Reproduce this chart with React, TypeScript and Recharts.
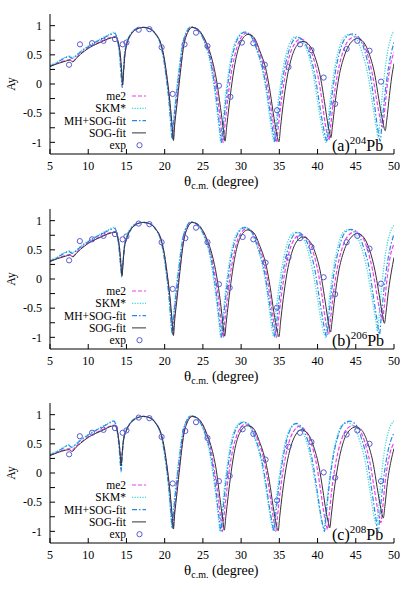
import React from 'react';
import { ComposedChart, Line, Scatter, XAxis, YAxis, Customized } from 'recharts';

type P = [number, number];

const xTicks = [5, 10, 15, 20, 25, 30, 35, 40, 45, 50];
const yTicks = [-1, -0.75, -0.5, -0.25, 0, 0.25, 0.5, 0.75, 1];
const yLabelTicks = [-1, -0.5, 0, 0.5, 1];
const seriesNames = ['me2', 'SKM*', 'MH+SOG-fit', 'SOG-fit', 'exp'];
const panelTags = ['(a)', '(b)', '(c)'];
const panelMasses = ['204', '206', '208'];
const element = 'Pb';

// ---------- panel (a) 204Pb ----------
const aSog: P[] = [[5,0.30],[6,0.35],[7,0.39],[7.6,0.41],[8.0,0.38],[8.5,0.45],[9,0.51],[10,0.61],[11,0.68],[12,0.74],[13,0.79],[13.6,0.80],[13.95,0.70],[14.2,0.5],[14.38,0.2],[14.5,-0.02],[14.62,0.2],[14.8,0.5],[15.0,0.66],[15.5,0.83],[16.2,0.93],[17.2,0.97],[18.0,0.95],[18.8,0.86],[19.6,0.65],[20.0,0.40],[20.3,0.12],[20.7,-0.32],[21.0,-0.75],[21.15,-0.97],[21.3,-0.72],[21.6,-0.36],[22.0,0.13],[22.5,0.66],[23.0,0.88],[23.6,0.97],[24.2,0.95],[24.9,0.85],[25.6,0.66],[26.2,0.42],[26.8,0.05],[27.3,-0.4],[27.7,-0.8],[27.9,-0.98],[28.1,-0.75],[28.4,-0.4],[28.8,0.02],[29.3,0.42],[29.9,0.7],[30.9,0.85],[31.6,0.81],[32.5,0.55],[33.3,0.22],[33.8,-0.14],[34.3,-0.58],[34.7,-0.88],[34.95,-0.99],[35.15,-0.75],[35.5,-0.35],[36.0,0.1],[36.6,0.45],[37.3,0.66],[38.1,0.73],[38.9,0.67],[39.7,0.45],[40.4,0.1],[40.9,-0.3],[41.3,-0.65],[41.6,-0.85],[41.75,-0.92],[41.95,-0.72],[42.3,-0.32],[42.8,0.12],[43.5,0.48],[44.3,0.7],[45.2,0.78],[46.0,0.72],[46.8,0.5],[47.5,0.15],[48.0,-0.25],[48.5,-0.62],[48.85,-0.80],[49.05,-0.62],[49.4,-0.2],[49.7,0.12],[50,0.35]];
const aMe2: P[] = [[5,0.30],[6,0.36],[7,0.40],[7.6,0.42],[8.0,0.39],[8.5,0.46],[9,0.52],[10,0.62],[11,0.69],[12,0.75],[13,0.80],[13.6,0.81],[13.95,0.70],[14.2,0.48],[14.38,0.18],[14.5,0.0],[14.62,0.2],[14.8,0.5],[15.0,0.66],[15.5,0.83],[16.2,0.93],[17.2,0.97],[18.0,0.95],[18.8,0.86],[19.6,0.64],[20.0,0.38],[20.3,0.1],[20.7,-0.36],[20.95,-0.75],[21.1,-0.95],[21.25,-0.7],[21.55,-0.3],[22.0,0.2],[22.5,0.68],[23.0,0.89],[23.55,0.97],[24.2,0.94],[24.9,0.84],[25.5,0.66],[26.1,0.4],[26.6,0.05],[27.1,-0.4],[27.45,-0.8],[27.65,-1.0],[27.85,-0.75],[28.15,-0.38],[28.55,0.05],[29.1,0.45],[29.7,0.72],[30.7,0.87],[31.4,0.83],[32.3,0.57],[33.1,0.22],[33.6,-0.14],[34.1,-0.58],[34.45,-0.88],[34.65,-1.0],[34.85,-0.75],[35.2,-0.35],[35.7,0.1],[36.3,0.47],[37.0,0.69],[37.8,0.77],[38.6,0.7],[39.4,0.47],[40.1,0.1],[40.6,-0.3],[41.0,-0.68],[41.3,-0.88],[41.5,-0.96],[41.7,-0.74],[42.05,-0.32],[42.55,0.13],[43.2,0.5],[44.0,0.74],[44.9,0.81],[45.7,0.75],[46.5,0.52],[47.2,0.15],[47.7,-0.25],[48.2,-0.6],[48.5,-0.74],[48.7,-0.55],[49.05,-0.1],[49.5,0.3],[50,0.55]];
const aMh: P[] = [[5,0.31],[6,0.37],[7,0.45],[7.5,0.47],[7.9,0.44],[8.3,0.47],[9,0.55],[10,0.64],[11,0.72],[12,0.79],[13,0.85],[13.45,0.87],[13.85,0.74],[14.1,0.5],[14.3,0.15],[14.45,-0.06],[14.58,0.18],[14.75,0.5],[15.0,0.68],[15.5,0.84],[16.2,0.94],[17.2,0.97],[18.0,0.95],[18.8,0.86],[19.5,0.66],[19.9,0.4],[20.2,0.12],[20.6,-0.34],[20.85,-0.75],[21.0,-0.95],[21.15,-0.7],[21.45,-0.3],[21.9,0.22],[22.4,0.7],[22.9,0.9],[23.4,0.98],[24.1,0.95],[24.8,0.84],[25.4,0.66],[26.0,0.4],[26.45,0.05],[26.9,-0.4],[27.25,-0.8],[27.45,-1.0],[27.65,-0.75],[27.95,-0.36],[28.35,0.08],[28.9,0.5],[29.5,0.76],[30.5,0.89],[31.2,0.84],[32.1,0.58],[32.9,0.22],[33.4,-0.14],[33.9,-0.58],[34.25,-0.88],[34.45,-1.0],[34.65,-0.75],[35.0,-0.33],[35.5,0.13],[36.1,0.5],[36.7,0.72],[37.4,0.8],[38.2,0.73],[39.0,0.5],[39.7,0.12],[40.2,-0.3],[40.7,-0.7],[41.05,-0.92],[41.25,-0.99],[41.45,-0.75],[41.8,-0.3],[42.3,0.18],[42.9,0.55],[43.7,0.8],[44.6,0.86],[45.4,0.8],[46.2,0.55],[46.9,0.15],[47.4,-0.3],[47.85,-0.75],[48.2,-0.98],[48.4,-0.72],[48.75,-0.25],[49.3,0.3],[50,0.72]];
const aSkm: P[] = [[5,0.32],[6,0.38],[7,0.46],[7.5,0.48],[7.9,0.45],[8.3,0.48],[9,0.56],[10,0.65],[11,0.73],[12,0.80],[13,0.87],[13.4,0.89],[13.8,0.76],[14.1,0.5],[14.3,0.2],[14.45,0.0],[14.58,0.2],[14.75,0.52],[15.0,0.7],[15.5,0.85],[16.2,0.94],[17.2,0.97],[18.0,0.95],[18.8,0.86],[19.5,0.66],[19.9,0.4],[20.2,0.13],[20.55,-0.3],[20.8,-0.72],[20.95,-0.92],[21.1,-0.68],[21.4,-0.28],[21.85,0.24],[22.35,0.7],[22.9,0.91],[23.4,0.98],[24.1,0.95],[24.8,0.84],[25.35,0.66],[25.9,0.4],[26.35,0.05],[26.8,-0.4],[27.15,-0.8],[27.35,-1.0],[27.55,-0.75],[27.85,-0.34],[28.25,0.1],[28.8,0.52],[29.4,0.77],[30.4,0.89],[31.1,0.85],[32.0,0.59],[32.8,0.22],[33.3,-0.14],[33.75,-0.58],[34.1,-0.88],[34.3,-0.98],[34.5,-0.72],[34.85,-0.3],[35.35,0.16],[35.9,0.52],[36.5,0.74],[37.2,0.81],[38.0,0.74],[38.8,0.5],[39.5,0.12],[40.0,-0.3],[40.5,-0.7],[40.9,-0.94],[41.1,-1.0],[41.3,-0.74],[41.65,-0.28],[42.15,0.2],[42.75,0.58],[43.4,0.8],[44.2,0.85],[45.0,0.79],[45.8,0.55],[46.6,0.15],[47.15,-0.3],[47.65,-0.72],[47.95,-0.92],[48.15,-0.66],[48.5,-0.15],[49.0,0.42],[49.5,0.75],[50,0.91]];
const aExp: P[] = [[7.49,0.33],[8.92,0.68],[10.5,0.70],[12.0,0.74],[13.5,0.77],[14.5,0.68],[15.0,0.71],[16.6,0.93],[18.0,0.94],[19.6,0.63],[21.05,-0.17],[22.6,0.68],[24.1,0.88],[25.6,0.65],[27.1,-0.03],[28.6,-0.22],[30.1,0.71],[31.6,0.70],[33.1,0.33],[34.7,-0.45],[36.2,0.29],[37.7,0.68],[39.2,0.58],[40.8,0.11],[42.3,-0.34],[43.8,0.60],[45.2,0.74],[46.8,0.57],[48.3,0.04]];

// ---------- panel (b) 206Pb ----------
const bSog: P[] = [[5,0.30],[6,0.35],[7,0.39],[7.6,0.41],[8.0,0.38],[8.5,0.45],[9,0.51],[10,0.61],[11,0.68],[12,0.74],[13,0.79],[13.6,0.80],[13.9,0.70],[14.12,0.5],[14.3,0.22],[14.42,0.06],[14.54,0.25],[14.72,0.52],[15.0,0.68],[15.5,0.83],[16.2,0.93],[17.2,0.97],[18.0,0.95],[18.8,0.86],[19.6,0.65],[20.0,0.40],[20.3,0.12],[20.7,-0.32],[21.0,-0.75],[21.15,-0.97],[21.3,-0.72],[21.6,-0.36],[22.0,0.13],[22.5,0.66],[23.0,0.88],[23.6,0.97],[24.2,0.95],[24.9,0.85],[25.6,0.66],[26.2,0.42],[26.8,0.05],[27.3,-0.4],[27.65,-0.8],[27.85,-0.98],[28.05,-0.75],[28.35,-0.4],[28.75,0.02],[29.25,0.42],[29.85,0.7],[30.85,0.84],[31.6,0.8],[32.5,0.55],[33.3,0.22],[33.8,-0.14],[34.3,-0.58],[34.7,-0.88],[34.95,-0.99],[35.15,-0.75],[35.5,-0.35],[36.0,0.1],[36.6,0.44],[37.3,0.65],[38.1,0.72],[38.9,0.66],[39.7,0.45],[40.4,0.1],[40.9,-0.3],[41.3,-0.65],[41.55,-0.85],[41.7,-0.91],[41.9,-0.72],[42.25,-0.32],[42.75,0.12],[43.45,0.48],[44.3,0.7],[45.2,0.78],[46.0,0.72],[46.8,0.5],[47.5,0.15],[48.0,-0.22],[48.45,-0.58],[48.75,-0.76],[48.95,-0.58],[49.3,-0.18],[49.65,0.12],[50,0.37]];
const bMe2: P[] = [[5,0.30],[6,0.36],[7,0.40],[7.6,0.42],[8.0,0.39],[8.5,0.46],[9,0.52],[10,0.62],[11,0.69],[12,0.75],[13,0.80],[13.6,0.81],[13.9,0.70],[14.12,0.5],[14.3,0.24],[14.42,0.08],[14.54,0.26],[14.72,0.53],[15.0,0.68],[15.5,0.83],[16.2,0.93],[17.2,0.97],[18.0,0.95],[18.8,0.86],[19.6,0.64],[20.0,0.38],[20.3,0.1],[20.7,-0.36],[20.95,-0.75],[21.1,-0.95],[21.25,-0.7],[21.55,-0.3],[22.0,0.2],[22.5,0.68],[23.0,0.89],[23.55,0.97],[24.2,0.94],[24.9,0.84],[25.5,0.66],[26.1,0.4],[26.6,0.05],[27.1,-0.4],[27.45,-0.8],[27.65,-1.0],[27.85,-0.75],[28.15,-0.38],[28.55,0.05],[29.1,0.45],[29.7,0.72],[30.7,0.86],[31.4,0.82],[32.3,0.57],[33.1,0.22],[33.6,-0.14],[34.1,-0.58],[34.45,-0.88],[34.65,-1.0],[34.85,-0.75],[35.2,-0.35],[35.7,0.1],[36.3,0.47],[37.0,0.69],[37.8,0.76],[38.6,0.7],[39.4,0.47],[40.1,0.1],[40.6,-0.3],[41.0,-0.68],[41.25,-0.88],[41.45,-0.95],[41.65,-0.74],[42.0,-0.32],[42.5,0.13],[43.15,0.5],[44.0,0.74],[44.9,0.81],[45.7,0.75],[46.5,0.52],[47.2,0.15],[47.7,-0.22],[48.2,-0.58],[48.5,-0.70],[48.7,-0.5],[49.05,-0.05],[49.5,0.38],[50,0.6]];
const bMh: P[] = [[5,0.31],[6,0.37],[7,0.45],[7.5,0.47],[7.9,0.44],[8.3,0.47],[9,0.55],[10,0.64],[11,0.72],[12,0.79],[13,0.85],[13.45,0.87],[13.8,0.74],[14.05,0.5],[14.25,0.2],[14.4,0.03],[14.52,0.22],[14.7,0.52],[15.0,0.7],[15.5,0.85],[16.2,0.94],[17.2,0.97],[18.0,0.95],[18.8,0.86],[19.5,0.66],[19.9,0.4],[20.2,0.12],[20.6,-0.34],[20.85,-0.75],[21.0,-0.95],[21.15,-0.7],[21.45,-0.3],[21.9,0.22],[22.4,0.7],[22.9,0.9],[23.4,0.98],[24.1,0.95],[24.8,0.84],[25.4,0.66],[26.0,0.4],[26.45,0.05],[26.9,-0.4],[27.25,-0.8],[27.45,-1.0],[27.65,-0.75],[27.95,-0.36],[28.35,0.08],[28.9,0.5],[29.5,0.76],[30.5,0.88],[31.2,0.84],[32.1,0.58],[32.9,0.22],[33.4,-0.14],[33.9,-0.58],[34.25,-0.88],[34.45,-1.0],[34.65,-0.75],[35.0,-0.33],[35.5,0.13],[36.1,0.5],[36.7,0.72],[37.4,0.8],[38.2,0.73],[39.0,0.5],[39.7,0.12],[40.2,-0.3],[40.7,-0.7],[41.0,-0.92],[41.2,-0.99],[41.4,-0.75],[41.75,-0.3],[42.25,0.18],[42.85,0.55],[43.6,0.8],[44.4,0.85],[45.2,0.8],[46.0,0.55],[46.8,0.15],[47.3,-0.3],[47.8,-0.72],[48.1,-0.95],[48.3,-0.7],[48.65,-0.22],[49.2,0.33],[50,0.77]];
const bSkm: P[] = [[5,0.32],[6,0.38],[7,0.46],[7.5,0.48],[7.9,0.45],[8.3,0.48],[9,0.56],[10,0.65],[11,0.73],[12,0.80],[13,0.87],[13.4,0.89],[13.78,0.76],[14.05,0.5],[14.25,0.22],[14.4,0.06],[14.52,0.24],[14.7,0.54],[15.0,0.72],[15.5,0.86],[16.2,0.94],[17.2,0.97],[18.0,0.95],[18.8,0.86],[19.5,0.66],[19.9,0.4],[20.2,0.13],[20.55,-0.3],[20.8,-0.72],[20.95,-0.92],[21.1,-0.68],[21.4,-0.28],[21.85,0.24],[22.35,0.7],[22.9,0.91],[23.4,0.98],[24.1,0.95],[24.8,0.84],[25.35,0.66],[25.9,0.4],[26.35,0.05],[26.8,-0.4],[27.15,-0.8],[27.35,-1.0],[27.55,-0.75],[27.85,-0.34],[28.25,0.1],[28.8,0.52],[29.4,0.77],[30.4,0.89],[31.1,0.85],[32.0,0.59],[32.8,0.22],[33.3,-0.14],[33.75,-0.58],[34.05,-0.88],[34.25,-0.98],[34.45,-0.72],[34.8,-0.3],[35.3,0.16],[35.85,0.52],[36.45,0.74],[37.1,0.8],[37.9,0.74],[38.7,0.5],[39.4,0.12],[39.95,-0.3],[40.45,-0.7],[40.85,-0.94],[41.05,-1.0],[41.25,-0.74],[41.6,-0.28],[42.1,0.2],[42.7,0.58],[43.35,0.8],[44.1,0.85],[44.9,0.79],[45.7,0.55],[46.5,0.15],[47.1,-0.3],[47.6,-0.7],[47.85,-0.9],[48.05,-0.64],[48.4,-0.12],[48.9,0.44],[49.45,0.78],[50,0.92]];
const bExp: P[] = [[7.5,0.32],[8.9,0.65],[10.5,0.68],[12.0,0.74],[13.5,0.77],[14.5,0.68],[15.0,0.73],[16.6,0.95],[18.0,0.94],[19.6,0.63],[21.05,-0.17],[22.7,0.70],[24.1,0.88],[25.6,0.63],[27.1,-0.09],[28.5,-0.15],[30.2,0.72],[31.6,0.68],[33.2,0.28],[34.7,-0.49],[36.2,0.37],[37.7,0.70],[39.2,0.55],[40.8,0.03],[42.3,-0.26],[43.8,0.63],[45.2,0.74],[46.8,0.52],[48.3,-0.08]];

// ---------- panel (c) 208Pb ----------
const cSog: P[] = [[5,0.30],[6,0.35],[7,0.39],[7.5,0.40],[7.9,0.37],[8.4,0.44],[9,0.51],[10,0.61],[11,0.68],[12,0.74],[13,0.80],[13.5,0.81],[13.85,0.70],[14.05,0.5],[14.2,0.3],[14.3,0.12],[14.42,0.3],[14.6,0.55],[15.0,0.73],[15.5,0.85],[16.2,0.93],[17.2,0.97],[18.0,0.95],[18.8,0.86],[19.6,0.64],[20.0,0.40],[20.3,0.12],[20.7,-0.32],[21.0,-0.75],[21.15,-0.96],[21.3,-0.72],[21.6,-0.36],[22.0,0.13],[22.5,0.66],[23.0,0.88],[23.6,0.97],[24.2,0.95],[24.9,0.85],[25.6,0.64],[26.2,0.4],[26.75,0.05],[27.2,-0.4],[27.6,-0.8],[27.8,-0.98],[28.0,-0.75],[28.3,-0.4],[28.7,0.02],[29.2,0.42],[29.8,0.68],[30.8,0.81],[31.5,0.78],[32.4,0.54],[33.2,0.2],[33.7,-0.14],[34.2,-0.58],[34.6,-0.88],[34.85,-0.99],[35.05,-0.75],[35.4,-0.35],[35.9,0.1],[36.5,0.45],[37.2,0.67],[37.9,0.74],[38.7,0.68],[39.5,0.45],[40.2,0.1],[40.7,-0.3],[41.1,-0.65],[41.45,-0.87],[41.6,-0.94],[41.8,-0.72],[42.15,-0.32],[42.65,0.12],[43.3,0.5],[44.1,0.72],[45.0,0.79],[45.8,0.73],[46.6,0.5],[47.3,0.15],[47.8,-0.25],[48.3,-0.62],[48.6,-0.77],[48.8,-0.58],[49.15,-0.15],[49.6,0.2],[50,0.42]];
const cMe2: P[] = [[5,0.30],[6,0.36],[7,0.40],[7.5,0.42],[7.9,0.39],[8.4,0.46],[9,0.52],[10,0.62],[11,0.69],[12,0.75],[13,0.81],[13.5,0.82],[13.85,0.70],[14.05,0.5],[14.2,0.3],[14.3,0.12],[14.42,0.3],[14.6,0.55],[15.0,0.73],[15.5,0.85],[16.2,0.93],[17.2,0.97],[18.0,0.95],[18.8,0.86],[19.6,0.64],[20.0,0.38],[20.3,0.1],[20.7,-0.36],[20.95,-0.75],[21.1,-0.95],[21.25,-0.7],[21.55,-0.3],[22.0,0.2],[22.5,0.68],[23.0,0.89],[23.55,0.97],[24.2,0.94],[24.9,0.84],[25.5,0.65],[26.05,0.4],[26.5,0.05],[27.0,-0.4],[27.35,-0.8],[27.55,-1.0],[27.75,-0.75],[28.05,-0.38],[28.45,0.05],[29.0,0.45],[29.6,0.7],[30.6,0.84],[31.3,0.8],[32.2,0.56],[33.0,0.22],[33.5,-0.14],[34.0,-0.58],[34.35,-0.88],[34.55,-1.0],[34.75,-0.75],[35.1,-0.33],[35.6,0.13],[36.2,0.5],[36.9,0.72],[37.6,0.8],[38.4,0.73],[39.2,0.5],[39.9,0.12],[40.4,-0.3],[40.85,-0.7],[41.15,-0.9],[41.3,-0.97],[41.5,-0.74],[41.85,-0.3],[42.35,0.15],[43.0,0.52],[43.8,0.75],[44.6,0.81],[45.4,0.76],[46.2,0.52],[46.9,0.15],[47.4,-0.25],[47.9,-0.65],[48.3,-0.85],[48.5,-0.62],[48.85,-0.15],[49.4,0.3],[50,0.52]];
const cMh: P[] = [[5,0.31],[6,0.37],[7,0.45],[7.4,0.48],[7.8,0.44],[8.2,0.47],[9,0.56],[10,0.65],[11,0.73],[12,0.80],[13,0.87],[13.35,0.89],[13.75,0.74],[14.0,0.5],[14.18,0.2],[14.3,0.02],[14.42,0.25],[14.6,0.55],[15.0,0.74],[15.5,0.86],[16.2,0.94],[17.2,0.97],[18.0,0.95],[18.8,0.86],[19.5,0.66],[19.9,0.4],[20.2,0.12],[20.6,-0.34],[20.85,-0.75],[21.0,-0.95],[21.15,-0.7],[21.45,-0.3],[21.9,0.22],[22.4,0.7],[22.9,0.9],[23.4,0.98],[24.1,0.95],[24.8,0.83],[25.35,0.65],[25.9,0.4],[26.35,0.05],[26.8,-0.4],[27.15,-0.8],[27.35,-1.0],[27.55,-0.75],[27.85,-0.36],[28.25,0.08],[28.8,0.52],[29.4,0.77],[30.3,0.87],[31.0,0.83],[31.9,0.58],[32.7,0.22],[33.2,-0.14],[33.7,-0.58],[34.1,-0.88],[34.3,-1.0],[34.5,-0.75],[34.85,-0.33],[35.35,0.15],[35.9,0.53],[36.5,0.76],[37.2,0.85],[38.0,0.77],[38.8,0.52],[39.45,0.12],[39.95,-0.3],[40.4,-0.7],[40.75,-0.93],[40.9,-1.0],[41.1,-0.75],[41.45,-0.3],[41.95,0.2],[42.6,0.6],[43.4,0.84],[44.2,0.89],[45.0,0.83],[45.8,0.57],[46.6,0.15],[47.1,-0.3],[47.6,-0.75],[47.95,-1.0],[48.15,-0.72],[48.5,-0.25],[49.1,0.3],[50,0.69]];
const cSkm: P[] = [[5,0.32],[6,0.38],[7,0.46],[7.4,0.49],[7.8,0.45],[8.2,0.48],[9,0.57],[10,0.66],[11,0.74],[12,0.81],[13,0.88],[13.35,0.90],[13.75,0.76],[14.0,0.52],[14.18,0.22],[14.3,0.05],[14.42,0.27],[14.6,0.57],[15.0,0.75],[15.5,0.86],[16.2,0.94],[17.2,0.97],[18.0,0.95],[18.8,0.86],[19.5,0.66],[19.9,0.4],[20.2,0.13],[20.55,-0.3],[20.8,-0.72],[20.95,-0.93],[21.1,-0.68],[21.4,-0.28],[21.85,0.24],[22.35,0.7],[22.9,0.91],[23.4,0.98],[24.1,0.95],[24.8,0.83],[25.3,0.65],[25.8,0.4],[26.25,0.05],[26.7,-0.4],[27.05,-0.8],[27.25,-1.0],[27.45,-0.75],[27.75,-0.34],[28.15,0.1],[28.7,0.54],[29.3,0.78],[30.2,0.88],[30.9,0.84],[31.8,0.59],[32.6,0.22],[33.1,-0.14],[33.6,-0.58],[34.0,-0.88],[34.2,-0.98],[34.4,-0.72],[34.75,-0.3],[35.25,0.17],[35.8,0.54],[36.4,0.76],[37.0,0.84],[37.8,0.77],[38.6,0.52],[39.3,0.12],[39.85,-0.3],[40.35,-0.7],[40.7,-0.92],[40.85,-0.97],[41.05,-0.72],[41.4,-0.28],[41.9,0.2],[42.5,0.6],[43.2,0.82],[43.9,0.86],[44.7,0.8],[45.5,0.56],[46.3,0.15],[46.85,-0.3],[47.35,-0.72],[47.75,-0.9],[47.95,-0.64],[48.3,-0.12],[48.8,0.42],[49.4,0.76],[50,0.89]];
const cExp: P[] = [[7.5,0.32],[8.9,0.63],[10.5,0.69],[12.0,0.74],[13.5,0.77],[14.5,0.69],[15.0,0.73],[16.6,0.95],[18.0,0.94],[19.6,0.62],[21.05,-0.18],[22.7,0.72],[24.1,0.87],[25.6,0.60],[27.1,-0.14],[28.5,-0.05],[30.2,0.75],[31.6,0.67],[33.2,0.23],[34.7,-0.47],[36.2,0.45],[37.7,0.69],[39.2,0.53],[40.8,0.01],[42.3,-0.08],[43.8,0.66],[45.2,0.73],[46.8,0.50],[48.3,-0.14]];

const FONT = 'Liberation Serif, Times New Roman, serif';
const C_ME2 = '#f03cf0';
const C_SKM = '#3cd8dc';
const C_MH = '#2a86e6';
const C_SOG = '#333333';
const C_EXP = '#5a5ad2';

const rows = (arr: P[]) => arr.map(([x, y]) => ({ x, y }));

const styles = [
  { color: C_ME2, dash: '4 2', width: 1.2 },
  { color: C_SKM, dash: '1.2 1.4', width: 1.3 },
  { color: C_MH, dash: '5 2 1.5 2', width: 1.2 },
  { color: C_SOG, dash: undefined as string | undefined, width: 1 },
];

const ExpDot = (props: any) => {
  const { cx, cy } = props;
  if (cx == null || cy == null) return null;
  return <circle cx={cx} cy={cy} r={2.6} fill="none" stroke={C_EXP} strokeWidth={1} />;
};

const Overlay = ({ tag, mass }: { tag: string; mass: string }) => {
  const ly = 96;
  const step = 12.3;
  return (
    <g style={{ fontFamily: FONT }} fill="#000">
      {seriesNames.map((name, i) => {
        const y = ly + i * step;
        return (
          <g key={name}>
            <text x={126} y={y + 4} fontSize={11.5} textAnchor="end" style={{ fontFamily: FONT }}>{name}</text>
            {i < 4 ? (
              <line x1={132} x2={146} y1={y} y2={y} stroke={styles[i].color} strokeWidth={styles[i].width} strokeDasharray={styles[i].dash} />
            ) : (
              <circle cx={139.5} cy={y} r={2.6} fill="none" stroke={C_EXP} strokeWidth={1} />
            )}
          </g>
        );
      })}
      <text x={332} y={151} fontSize={16} style={{ fontFamily: FONT }}>
        {tag}
        <tspan fontSize={11} dy={-7}>{mass}</tspan>
        <tspan fontSize={16} dy={7}>{element}</tspan>
      </text>
      <text transform="translate(15,84) rotate(-90)" fontSize={12} textAnchor="middle" style={{ fontFamily: FONT }}>Ay</text>
      <text x={184} y={186} fontSize={15} style={{ fontFamily: FONT }}>
        θ<tspan fontSize={10} dy={3}>c.m.</tspan>
        <tspan fontSize={14} dy={-3}> (degree)</tspan>
      </text>
    </g>
  );
};

const Panel = ({ top, series, exp, tag, mass }: { top: number; series: P[][]; exp: P[]; tag: string; mass: string }) => {
  const tickStyle = { fill: '#000', fontSize: 12, fontFamily: FONT, style: { fontFamily: FONT } };
  return (
    <div style={{ position: 'absolute', left: 0, top, width: 415, height: 195, fontFamily: FONT }}>
      <ComposedChart width={415} height={195} margin={{ top: 14, right: 21, bottom: 0, left: 0 }} style={{ fontFamily: FONT }}>
        <XAxis dataKey="x" type="number" domain={[5, 50]} ticks={xTicks} interval={0} allowDataOverflow height={41}
          tickSize={-5} tickMargin={12} axisLine={{ stroke: '#000' }} tickLine={{ stroke: '#000' }} tick={tickStyle} />
        <XAxis xAxisId="top" orientation="top" dataKey="x" type="number" domain={[5, 50]} ticks={xTicks} interval={0}
          allowDataOverflow height={0} tickSize={-5} tickFormatter={() => ''} axisLine={{ stroke: '#000' }} tickLine={{ stroke: '#000' }} />
        <YAxis type="number" domain={[-1.2, 1.2]} ticks={yTicks} interval={0} allowDataOverflow width={50}
          tickSize={-5} tickMargin={13} axisLine={{ stroke: '#000' }} tickLine={{ stroke: '#000' }} tick={tickStyle}
          tickFormatter={(v: number) => (yLabelTicks.includes(v) ? String(v) : '')} />
        <YAxis yAxisId="right" orientation="right" type="number" domain={[-1.2, 1.2]} ticks={yTicks} interval={0}
          allowDataOverflow width={0} tickSize={-5} tickFormatter={() => ''} axisLine={{ stroke: '#000' }} tickLine={{ stroke: '#000' }} />
        {series.map((s, i) => (
          <Line key={seriesNames[i]} name={seriesNames[i]} data={rows(s)} dataKey="y" type="monotone"
            stroke={styles[i].color} strokeWidth={styles[i].width} strokeDasharray={styles[i].dash}
            dot={false} activeDot={false} isAnimationActive={false} />
        ))}
        <Scatter name="exp" data={rows(exp)} dataKey="y" shape={ExpDot} isAnimationActive={false} />
        <Customized component={() => <Overlay tag={tag} mass={mass} />} />
      </ComposedChart>
    </div>
  );
};

export default function App() {
  return (
    <div style={{ position: 'absolute', left: 0, top: 0, width: 415, height: 593, background: '#fff', fontFamily: FONT }}>
      <Panel top={0} series={[aMe2, aSkm, aMh, aSog]} exp={aExp} tag={panelTags[0]} mass={panelMasses[0]} />
      <Panel top={195} series={[bMe2, bSkm, bMh, bSog]} exp={bExp} tag={panelTags[1]} mass={panelMasses[1]} />
      <Panel top={389} series={[cMe2, cSkm, cMh, cSog]} exp={cExp} tag={panelTags[2]} mass={panelMasses[2]} />
    </div>
  );
}
